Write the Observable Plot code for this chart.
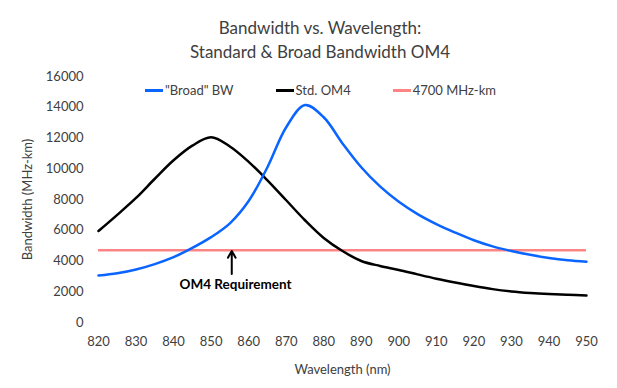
<!DOCTYPE html>
<html><head><meta charset="utf-8">
<script src="https://cdn.jsdelivr.net/npm/d3@7"></script>
<script src="https://cdn.jsdelivr.net/npm/@observablehq/plot@0.6"></script>
<style>
body{margin:0;background:#fff;}
#wrap{position:relative;width:617px;height:388px;font-family:Lato,"Open Sans",sans-serif;color:#404040;}
#title{position:absolute;left:0;width:640px;top:16px;text-align:center;font-size:17px;line-height:24px;}
#legend{position:absolute;top:82px;left:145px;display:flex;gap:42px;font-size:13px;line-height:16px;}
.item{display:flex;align-items:center;}
.sw{width:18px;height:3px;margin-right:2px;}
</style></head><body>
<div id="wrap"><div id="chart"></div><div id="title"></div><div id="legend"></div></div>
<script>
const titleLines = ["Bandwidth vs. Wavelength:", "Standard & Broad Bandwidth OM4"];
const wavelengths = [820,825,830,835,840,845,850,855,860,865,870,875,880,885,890,895,900,905,910,915,920,925,930,935,940,945,950];
const broadBW = [3050,3200,3450,3800,4250,4850,5550,6450,7900,10100,12700,14150,13350,11650,10100,8850,7850,7050,6400,5850,5350,4950,4650,4400,4200,4050,3950];
const stdOM4 = [5950,7000,8100,9350,10550,11500,12050,11450,10450,9250,7950,6650,5500,4650,4000,3680,3420,3130,2850,2600,2370,2170,2020,1920,1850,1800,1760];
const requirement = 4700;
const seriesNames = ["\"Broad\" BW", "Std. OM4", "4700 MHz-km"];
const seriesColors = ["#0a64ff", "#000000", "#ff8585"];
const xTicks = [820,830,840,850,860,870,880,890,900,910,920,930,940,950];
const yTicks = [0,2000,4000,6000,8000,10000,12000,14000,16000];
const annotation = [{x: 855.5, yFrom: 3150, yTo: 4650, tx: 856.5, ty: 2450, label: "OM4 Requirement"}];

const data = wavelengths.map((w, i) => ({w, broad: broadBW[i], std: stdOM4[i]}));

const plot = Plot.plot({
  width: 617, height: 388,
  marginLeft: 98, marginRight: 31, marginTop: 76, marginBottom: 66,
  style: {fontFamily: "Lato, 'Open Sans', sans-serif", fontSize: "13px", color: "#404040", background: "white"},
  x: {domain: [820, 950]},
  y: {domain: [0, 16000]},
  marks: [
    Plot.axisX({ticks: xTicks, tickSize: 0, tickPadding: 14, tickFormat: d3.format("d"), label: "Wavelength (nm)", labelAnchor: "center", labelOffset: 51, labelArrow: "none"}),
    Plot.axisY({ticks: yTicks, tickSize: 0, tickPadding: 15, tickFormat: d3.format("d"), label: "Bandwidth (MHz-km)", labelAnchor: "center", labelOffset: 76, labelArrow: "none"}),
    Plot.ruleY([requirement], {stroke: seriesColors[2], strokeWidth: 2.5}),
    Plot.line(data, {x: "w", y: "std", stroke: seriesColors[1], strokeWidth: 2.5, curve: "catmull-rom"}),
    Plot.line(data, {x: "w", y: "broad", stroke: seriesColors[0], strokeWidth: 2.5, curve: "catmull-rom"}),
    Plot.arrow(annotation, {x1: "x", x2: "x", y1: "yFrom", y2: "yTo", stroke: "#000", strokeWidth: 2, headLength: 7}),
    Plot.text(annotation, {x: "tx", y: "ty", text: "label", fontWeight: "bold", fill: "#000", fontSize: 13.5})
  ]
});
document.getElementById("chart").appendChild(plot);

const t = document.getElementById("title");
titleLines.forEach(s => { const d = document.createElement("div"); d.textContent = s; t.appendChild(d); });
const lg = document.getElementById("legend");
seriesNames.forEach((n, i) => {
  const it = document.createElement("div"); it.className = "item";
  const sw = document.createElement("span"); sw.className = "sw"; sw.style.background = seriesColors[i];
  const tx = document.createElement("span"); tx.textContent = n;
  it.appendChild(sw); it.appendChild(tx); lg.appendChild(it);
});
</script>
</body></html>
